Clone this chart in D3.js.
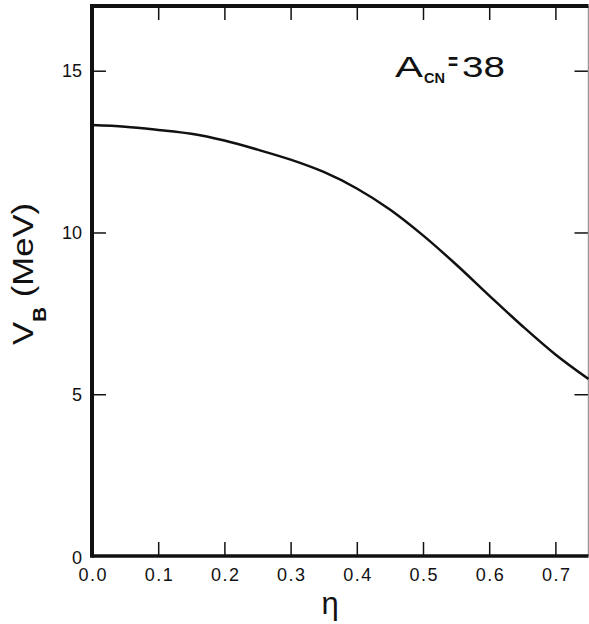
<!DOCTYPE html>
<html>
<head>
<meta charset="utf-8">
<script src="https://cdn.jsdelivr.net/npm/d3@7"></script>
<style>
  body { margin: 0; background: #fff; }
  svg text { font-family: "Liberation Sans", Arial, sans-serif; fill: #111; }
</style>
</head>
<body>
<svg id="chart" width="589" height="624"></svg>
<script>
// curve values
const etaValues = [0.00, 0.05, 0.10, 0.15, 0.20, 0.25, 0.30, 0.35, 0.40, 0.45, 0.50, 0.55, 0.60, 0.65, 0.70, 0.75];
const vbValues  = [13.32, 13.27, 13.17, 13.05, 12.84, 12.56, 12.25, 11.87, 11.36, 10.71, 9.91, 9.01, 8.05, 7.11, 6.23, 5.47];

const xTicks = [0.0, 0.1, 0.2, 0.3, 0.4, 0.5, 0.6, 0.7];
const xTickLabels = ["0.0", "0.1", "0.2", "0.3", "0.4", "0.5", "0.6", "0.7"];
const yTicks = [0, 5, 10, 15];

const svg = d3.select("svg#chart");

// plot frame
const plotLeft = 92, plotRight = 588.5, plotTop = 6, plotBottom = 556;

const x = d3.scaleLinear().domain([0, 0.75]).range([plotLeft, plotRight]);
const y = d3.scaleLinear().domain([0, 17]).range([plotBottom, plotTop]);

const tickLen = 14;

// bottom axis: inward ticks
const xAxisBottom = d3.axisBottom(x)
    .tickValues(xTicks)
    .tickSize(-tickLen)
    .tickFormat((d, i) => xTickLabels[i]);

const gxb = svg.append("g")
    .attr("transform", `translate(0,${plotBottom})`)
    .call(xAxisBottom);
gxb.select(".domain").remove();
gxb.selectAll(".tick line").attr("stroke", "#111").attr("stroke-width", 1.5);
gxb.selectAll(".tick text")
    .attr("font-size", 18)
    .attr("letter-spacing", 1.5)
    .attr("dx", 0.75)
    .attr("dy", "0.71em")
    .attr("y", 12);

// top axis: ticks only
const gxt = svg.append("g")
    .attr("transform", `translate(0,${plotTop})`)
    .call(d3.axisTop(x).tickValues(xTicks.slice(1)).tickSize(-tickLen).tickFormat(""));
gxt.select(".domain").remove();
gxt.selectAll(".tick line").attr("stroke", "#111").attr("stroke-width", 1.5);

// left axis
const gyl = svg.append("g")
    .attr("transform", `translate(${plotLeft},0)`)
    .call(d3.axisLeft(y).tickValues(yTicks).tickSize(-tickLen));
gyl.select(".domain").remove();
gyl.selectAll(".tick line").attr("stroke", "#111").attr("stroke-width", 1.5);
gyl.selectAll(".tick text").attr("font-size", 18).attr("x", -10);
gyl.selectAll(".tick").filter(d => d === 0).select("line").remove();
gyl.selectAll(".tick").filter(d => d === 0).select("text").attr("y", 2);

// right axis: ticks only
const gyr = svg.append("g")
    .attr("transform", `translate(${plotRight},0)`)
    .call(d3.axisRight(y).tickValues(yTicks.slice(1)).tickSize(-tickLen).tickFormat(""));
gyr.select(".domain").remove();
gyr.selectAll(".tick line").attr("stroke", "#111").attr("stroke-width", 1.5);

// frame lines: heavy left, bottom and top, light right
svg.append("line").attr("x1", plotRight).attr("x2", plotRight).attr("y1", plotTop).attr("y2", plotBottom)
    .attr("stroke", "#999").attr("stroke-width", 1.5);
svg.append("line").attr("x1", plotLeft).attr("x2", plotRight).attr("y1", plotTop).attr("y2", plotTop)
    .attr("stroke", "#111").attr("stroke-width", 4);
svg.append("line").attr("x1", plotLeft).attr("x2", plotRight).attr("y1", plotBottom).attr("y2", plotBottom)
    .attr("stroke", "#111").attr("stroke-width", 3.5);
svg.append("line").attr("x1", plotLeft).attr("x2", plotLeft).attr("y1", plotTop - 2).attr("y2", plotBottom + 1.75)
    .attr("stroke", "#111").attr("stroke-width", 4);

// the curve
const line = d3.line()
    .x((d, i) => x(etaValues[i]))
    .y(d => y(d))
    .curve(d3.curveCatmullRom);

svg.append("path")
    .datum(vbValues)
    .attr("d", line)
    .attr("fill", "none")
    .attr("stroke", "#111")
    .attr("stroke-width", 2.5);

// axis titles
const yTitle = svg.append("text")
    .attr("transform", "translate(33,274) rotate(-90)")
    .attr("text-anchor", "middle")
    .attr("font-size", 30)
    .attr("textLength", 142)
    .attr("lengthAdjust", "spacingAndGlyphs");
yTitle.append("tspan").text("V");
yTitle.append("tspan").attr("font-size", 18).attr("font-weight", "bold").attr("dy", 13).text("B");
yTitle.append("tspan").attr("dy", -13).text(" (MeV)");

svg.append("text")
    .attr("x", 330)
    .attr("y", 614)
    .attr("text-anchor", "middle")
    .attr("font-size", 31)
    .attr("font-family", "DejaVu Sans")
    .text("η");

// annotation, pieces placed one by one
const note = svg.append("g");
note.append("text").attr("x", 395).attr("y", 77).attr("font-size", 30)
    .attr("textLength", 28).attr("lengthAdjust", "spacingAndGlyphs").text("A");
note.append("text").attr("x", 424).attr("y", 83).attr("font-size", 15).attr("font-weight", "bold")
    .attr("textLength", 21).attr("lengthAdjust", "spacingAndGlyphs").text("CN");
note.append("text").attr("x", 448).attr("y", 70).attr("font-size", 24).attr("font-weight", "bold")
    .attr("textLength", 10).attr("lengthAdjust", "spacingAndGlyphs").text("=");
note.append("text").attr("x", 462).attr("y", 77).attr("font-size", 30)
    .attr("textLength", 43).attr("lengthAdjust", "spacingAndGlyphs").text("38");
</script>
</body>
</html>
